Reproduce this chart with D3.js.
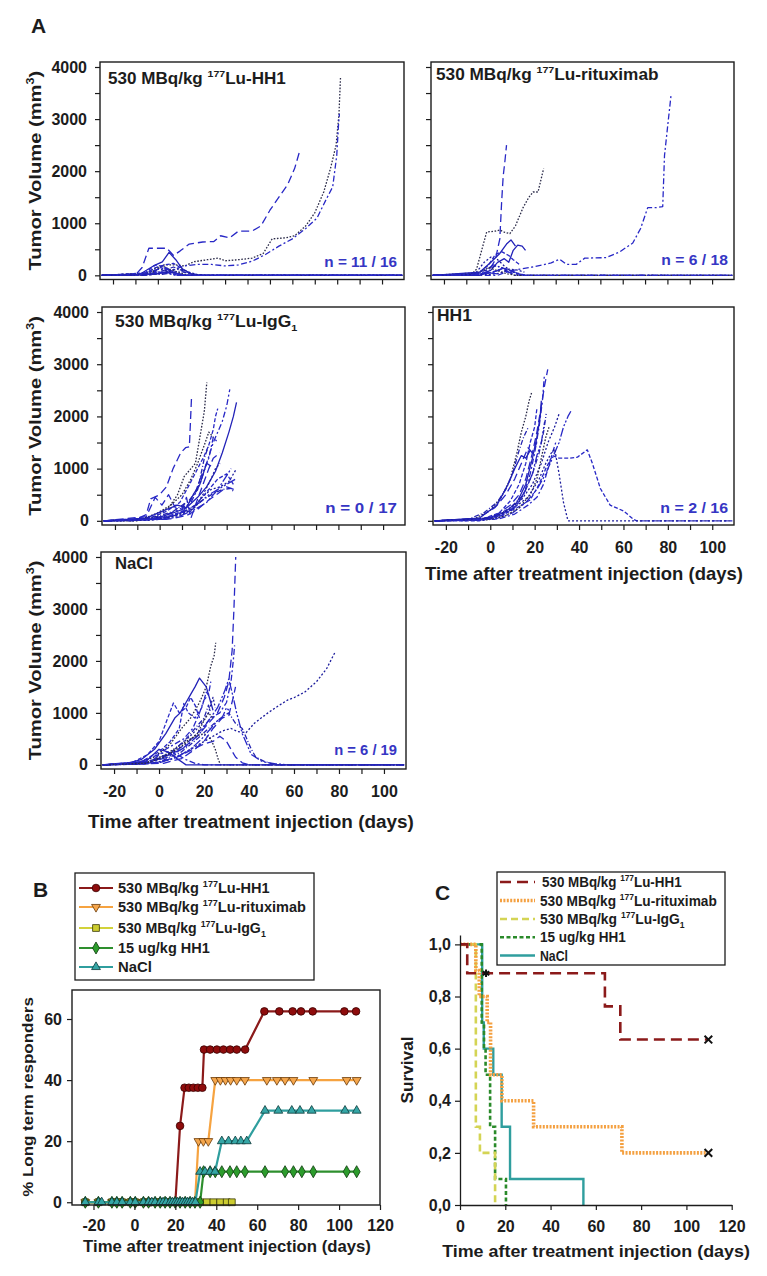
<!DOCTYPE html>
<html><head><meta charset="utf-8">
<script src="https://cdn.jsdelivr.net/npm/d3@7"></script>
<style>body{margin:0;background:#fff}svg{display:block}</style>
</head><body>
<svg id="c" width="767" height="1276"></svg>
<script>
// ================= DATA =================
// Panel A: individual tumour growth curves [day, volume mm3]
const luHH1Curves = [
 [[-25,0],[-10,10],[-7,150],[-4,520],[4,520],[7,380],[10,470],[14,600],[20,640],[25,650],[28,760],[32,720],[36,850],[42,850],[46,950],[50,1250],[54,1500],[58,1750],[61,2050],[63.5,2420]],
 [[-25,0],[-6,0],[-2,120],[3,200],[8,200],[12,180],[16,260],[22,300],[27,330],[30,280],[36,300],[42,330],[47,420],[51,700],[57,720],[61,760],[66,950],[70,1200],[74,1600],[77,2050],[79.5,2500],[80.8,3100],[81.5,3820]],
 [[-25,0],[-4,0],[1,150],[6,100],[12,180],[18,210],[24,210],[30,180],[36,200],[42,270],[48,400],[54,560],[60,700],[66,900],[71,1100],[75,1450],[78,1700],[79.8,2300],[80.6,2900],[81,3100]],
 [[-25,0],[-8,20],[-2,180],[2,260],[5,440],[8,300],[11,120],[15,30],[18,0],[109,0]],
 [[-25,0],[-6,30],[-1,150],[3,200],[7,230],[10,150],[14,40],[20,0],[109,0]],
 [[-25,0],[-4,50],[0,120],[4,90],[8,40],[12,0],[109,0]],
 [[-25,0],[-9,10],[-3,80],[1,60],[6,30],[10,0],[109,0]],
 [[-25,0],[-2,20],[3,100],[7,160],[11,90],[15,20],[19,0],[109,0]],
 [[-25,0],[-5,20],[0,70],[5,50],[9,0],[109,0]],
 [[-25,0],[-3,40],[2,180],[5,120],[9,60],[13,0],[109,0]],
 [[-25,0],[-7,20],[-2,90],[2,140],[6,80],[11,10],[16,0],[109,0]],
 [[-25,0],[0,30],[4,70],[8,40],[12,0],[109,0]],
 [[-25,0],[-6,40],[-1,200],[3,160],[7,60],[11,0],[109,0]],
 [[-25,0],[-3,10],[2,40],[6,90],[10,130],[14,60],[17,20],[21,0],[109,0]],
 [[-25,0],[-4,20],[1,50],[5,30],[8,0],[109,0]],
 [[-25,0],[2,20],[6,50],[10,80],[14,30],[16,10]]
];
const rituxCurves = [
 [[-25,0],[-5,0],[0,80],[3,300],[5,700],[5.8,1400],[6.5,1900],[7.3,2200],[8,2500]],
 [[-25,0],[-8,0],[-5.4,120],[-3,500],[-0.9,830],[3,850],[5,870],[7,830],[9.5,800],[12,950],[15.4,1300],[18,1500],[19.9,1600],[22.1,1600],[24.6,2050]],
 [[-25,0],[4,0],[9,80],[14,120],[18.4,150],[24.3,200],[28,240],[31.8,310],[34.8,210],[39.2,210],[43,330],[52.6,340],[58.6,450],[64.5,620],[68,900],[71.2,1300],[75,1300],[77.9,1320],[78.7,2300],[80.2,2900],[81.6,3450]],
 [[-25,0],[-4,0],[1,100],[4,250],[7,320],[9,250],[11,480],[13,580],[15,560],[16.5,480]],
 [[-25,0],[-5,20],[0,200],[3,400],[6,450],[9,380],[11,300],[14,200]],
 [[-25,0],[-6,30],[-2,250],[1,350],[4,300],[7,180],[10,80],[14,0],[109,0]],
 [[-25,0],[-3,40],[2,200],[6,150],[9,60],[12,0],[109,0]],
 [[-25,0],[-7,20],[-1,100],[3,180],[8,120],[13,30],[17,0],[109,0]],
 [[-25,0],[0,40],[5,100],[9,60],[14,20],[18,0],[109,0]],
 [[-25,0],[-5,50],[0,150],[4,90],[8,30],[12,0],[109,0]],
 [[-25,0],[-2,30],[3,80],[7,140],[11,70],[16,0],[109,0]],
 [[-25,0],[-4,60],[1,250],[5,420],[8,600],[10,680],[12,560]],
 [[-25,0],[-3,20],[2,60],[6,130],[10,90],[13,40]],
 [[-25,0],[1,20],[5,40],[9,120],[13,100],[16,60]],
 [[-25,0],[-6,10],[0,50],[4,30]]
];
const iggCurves = [
 [[-25,0],[-12,0],[-6,120],[-4,420],[0,500],[3,650],[6,1000],[9.4,1300],[11.6,1400],[13.3,1420],[14.3,2400]],
 [[-25,0],[-10,0],[-2,80],[4,250],[8,500],[11,850],[13,950],[16,1100],[18,1600],[20,2100],[21.1,2650]],
 [[-25,0],[-5,20],[2,100],[8,200],[14,350],[18,700],[21,1100],[24,1500],[26,1700],[28,1900],[30,2200],[31.4,2520]],
 [[-25,0],[-2,40],[6,150],[12,250],[17,450],[21,650],[25,950],[28,1300],[31,1700],[33,2000],[34.4,2270]],
 [[-25,0],[-4,60],[3,180],[9,350],[14,750],[17,1000],[20,1250],[22,1450],[24,1750],[25,2000],[26,2150]],
 [[-25,0],[0,60],[8,120],[14,200],[19,450],[23,600],[27,650],[31,750],[34.4,1000]],
 [[-25,0],[-3,30],[5,80],[12,200],[18,350],[22,500],[26,600],[30,700],[34,800]],
 [[-25,0],[2,40],[10,150],[16,300],[20,420],[24,520],[28,600],[32,620],[33,560]],
 [[-25,0],[-6,80],[-2,450],[1,300],[4,500],[7,250],[10,200],[12,450],[14,50],[16,300],[19,650],[22,1000],[24,1200],[27,1300]],
 [[-25,0],[-8,30],[-1,150],[5,300],[10,500],[14,800],[17,1100],[20,1450],[22,1700],[24,1600]],
 [[-25,0],[0,30],[6,100],[11,200],[16,550],[19,900],[22,1200],[24,1600],[26,1500]],
 [[-25,0],[-6,50],[2,200],[8,300],[12,250],[15,500],[18,700],[21,1100],[23,1050]],
 [[-25,0],[1,50],[8,150],[14,180],[18,400],[22,600],[26,800],[30,900],[33,700]],
 [[-25,0],[-4,10],[4,60],[10,120],[16,260],[20,550],[23,800],[25,1000],[27,1100]],
 [[-25,0],[3,30],[9,90],[15,200],[21,350],[26,600],[29,800],[32,1000]],
 [[-25,0],[-10,10],[-2,70],[6,180],[13,380],[17,600],[20,1200],[22,1450]],
 [[-25,0],[5,40],[12,100],[17,220],[22,400],[26,520],[30,650],[34,590]]
];
const hh1Curves = [
 [[-25,0],[-5,20],[3,120],[9,300],[13,500],[16,800],[19,1300],[21,1700],[23,2200],[24.5,2600],[25.9,2900]],
 [[-25,0],[-8,20],[0,200],[5,450],[9,800],[12,1300],[14,1700],[16,2000],[17.5,2300],[18.6,2450]],
 [[-25,0],[-3,10],[5,100],[11,250],[15,500],[18,900],[20,1300],[22,1800],[23.5,2300],[24.4,2800]],
 [[-25,0],[-2,40],[6,150],[12,350],[16,700],[19,1200],[21,1600],[22.5,2000],[23,2300]],
 [[-25,0],[-4,30],[4,150],[9,380],[13,700],[16,1100],[18,1500],[20,1800],[21,2150]],
 [[-25,0],[0,50],[8,200],[14,400],[19,700],[23,1100],[26,1500],[29,1800],[31,2050]],
 [[-25,0],[2,30],[10,150],[16,350],[21,600],[25,900],[28,1200],[31,1500],[33,1800],[35,2000],[36.3,2100]],
 [[-25,0],[-10,30],[-3,150],[3,350],[7,600],[10,900],[13,1350],[15,1600],[17,1780]],
 [[-25,0],[-6,40],[2,250],[7,500],[11,800],[14,1100],[17,1400],[19,1300],[21,1500]],
 [[-25,0],[-1,20],[7,100],[13,250],[18,500],[21,800],[23,1200],[25,1600],[26.5,1800]],
 [[-25,0],[4,40],[11,130],[17,300],[21,450],[24,700],[26,1000],[28,1300],[29.5,1500]],
 [[-25,0],[-5,50],[3,300],[8,700],[11,1000],[14,1250],[16,1200],[18,1350]],
 [[-25,0],[-5,0],[5,100],[12,250],[18,400],[22,700],[25,1000],[28,1250],[31,1200],[36,1200],[39.3,1220],[43.7,1360],[46,1100],[49.6,620],[54,300],[60,190],[64.5,30],[66,0],[109,0]],
 [[-25,0],[0,50],[9,200],[17,450],[22,800],[25,1100],[27.5,1300],[29,1380],[31,900],[33,350],[35,0],[109,0]],
 [[-25,0],[-3,20],[6,120],[12,300],[16,600],[19,900],[21,1250],[23,1500],[24.5,1900]],
 [[-25,0],[1,60],[9,250],[15,500],[19,900],[22,1300],[24,1700],[25.2,2050]]
];
const naclCurves = [
 [[-25,0],[-8,30],[2,150],[10,300],[17,550],[22,800],[26,1000],[29,1300],[31,1600],[32.5,2200],[33.3,3000],[34.1,4000]],
 [[-25,0],[-10,20],[-2,150],[5,400],[10,700],[14,900],[18,1200],[21,1500],[23,1900],[24.5,2100],[25.2,2350]],
 [[-25,0],[-5,30],[5,200],[12,400],[18,650],[23,900],[27,1000],[30,1200],[32,1600],[33,2000],[33.6,2300]],
 [[-25,0],[-15,20],[-8,100],[-2,300],[3,600],[7,900],[9.4,1000],[12,1200],[14,1350],[16,1500],[18,1670],[21,1500],[23,1200],[24,1050]],
 [[-25,0],[-12,40],[-5,200],[0,450],[3,800],[6.4,1190],[9,1000],[12,1100],[14,1300],[16,1150],[18,900]],
 [[-25,0],[-5,20],[5,100],[12,250],[18,400],[24,550],[28,650],[32,700],[35,640],[38.7,620],[42.4,800],[48.4,1000],[53.6,1150],[57.3,1250],[60.3,1300],[64.8,1400],[70,1600],[74.5,1850],[78.4,2180]],
 [[-25,0],[-6,20],[4,150],[12,350],[18,600],[22,850],[26,1100],[29,1400],[31,1650],[33,1300],[34.5,1000],[37,600],[41,200],[46,60],[52,20],[57,0],[109,0]],
 [[-25,0],[0,50],[10,250],[17,500],[22,700],[26,850],[29,950],[31,1000],[34,800],[37,700],[39,500],[41,300],[43,150],[47,60],[52,0],[109,0]],
 [[-25,0],[-2,30],[8,150],[15,300],[20,400],[24,450],[27,550],[30,450],[32,300],[34,150],[37,40],[40,0],[109,0]],
 [[-25,0],[-6,40],[3,200],[10,400],[16,550],[20,600],[23,500],[25,300],[26.5,80],[27.5,0],[109,0]],
 [[-25,0],[-10,30],[-3,150],[3,250],[8,200],[12,100],[16,30],[20,0],[109,0]],
 [[-25,0],[-6,60],[0,300],[4,250],[8,120],[12,0],[109,0]],
 [[-25,0],[-8,60],[0,250],[5,450],[9,700],[11,1180],[13,1000],[16,900],[19,1100],[21,1400],[22,1350]],
 [[-25,0],[-4,50],[4,200],[10,400],[15,600],[19,800],[22,1000],[24,1300],[25,1100]],
 [[-25,0],[0,40],[8,150],[14,300],[19,500],[23,700],[26,850],[28,900],[30,1100],[31,1050]],
 [[-25,0],[-10,10],[-2,100],[6,250],[12,500],[17,750],[20,900],[22,1150],[23,1000]],
 [[-25,0],[2,30],[10,120],[16,300],[20,450],[24,700],[28,900],[31,950],[33,1300],[34,1500]],
 [[-25,0],[-6,30],[2,150],[8,300],[13,450],[17,600],[20,850],[22,1000],[24,900]],
 [[-25,0],[-3,80],[3,300],[7,400],[11,500],[15,700],[18,1000],[20,1250],[22,1350],[23,1600]]
];
const panelATitles = [
 [['530 MBq/kg '],['177','sup'],['Lu-HH1']],
 [['530 MBq/kg '],['177','sup'],['Lu-rituximab']],
 [['530 MBq/kg '],['177','sup'],['Lu-IgG'],['1','sub']],
 [['HH1']],
 [['NaCl']]
];
const panelACounts = ['n = 11 / 16','n = 6 / 18','n = 0 / 17','n = 2 / 16','n = 6 / 19'];
const volTicks = [0,500,1000,1500,2000,2500,3000,3500,4000];
const dayTicksA = [-20,-10,0,10,20,30,40,50,60,70,80,90,100];

// Panel B: % long term responders [day, %]
const respLuHH1 = [[-24,0],[-17.6,0],[-11,0],[-6,0],[-2,0],[0.4,0],[4.4,0],[8,0],[12.6,0],[17.4,0],[20,0],[22.3,25],[24.5,37.5],[26.6,37.5],[28.8,37.5],[31,37.5],[33.2,37.5],[34,50],[37,50],[40.3,50],[43.5,50],[46.8,50],[50,50],[54.1,50],[63.5,62.5],[70.8,62.5],[77.3,62.5],[81.4,62.5],[87.1,62.5],[102.6,62.5],[108.3,62.5]];
const respRitux = [[-24,0],[-17.6,0],[-11,0],[-8.6,0],[-6,0],[-2,0],[0.4,0],[4.4,0],[6.9,0],[10.1,0],[12.6,0],[15,0],[17.4,0],[19.9,0],[22.3,0],[24.8,0],[27.2,0],[29.6,0],[31.3,20],[33.7,20],[36.1,20],[39.5,40],[42,40],[44.5,40],[47,40],[50,40],[54,40],[64.7,40],[69.6,40],[73.6,40],[77.7,40],[87.4,40],[103.7,40],[108.6,40]];
const respIgG = [[-24,0],[-17.6,0],[-11,0],[-8.6,0],[-6,0],[-2,0],[0.4,0],[4.4,0],[6.9,0],[10.1,0],[12.6,0],[15,0],[17.4,0],[19.9,0],[22.3,0],[24.8,0],[27.2,0],[29.6,0],[32.1,0],[35.4,0],[38.6,0],[41.9,0],[45.1,0],[47.6,0]];
const respHH1 = [[-24,0],[-17.6,0],[-11,0],[-8.6,0],[-6,0],[-2,0],[0.4,0],[4.4,0],[6.9,0],[10.1,0],[12.6,0],[15,0],[17.4,0],[19.9,0],[22.3,0],[24.8,0],[27.2,0],[29.6,0],[32.1,0],[33.8,10],[37,10],[39.5,10],[42.7,10],[46.7,10],[50,10],[54,10],[63.8,10],[73.6,10],[77.7,10],[81.8,10],[87.4,10],[103.7,10],[108.6,10]];
const respNaCl = [[-24,0],[-17.6,0],[-16,0],[-11,0],[-8.6,0],[-6,0],[-2,0],[0.4,0],[4.4,0],[6.9,0],[8.5,0],[10.1,0],[12.6,0],[14,0],[15.5,0],[17.4,0],[18.6,0],[19.9,0],[21.1,0],[22.3,0],[23.5,0],[24.8,0],[26,0],[27.2,0],[28.4,0],[29.8,0],[32.1,10],[34.5,10],[37,10],[39.4,10],[42.7,20],[46,20],[49.3,20],[52,20],[54.9,20],[63.8,30],[70.3,30],[76.9,30],[80.9,30],[86.6,30],[102.9,30],[108.6,30]];
const groupNames = [
 [['530 MBq/kg '],['177','sup'],['Lu-HH1']],
 [['530 MBq/kg '],['177','sup'],['Lu-rituximab']],
 [['530 MBq/kg '],['177','sup'],['Lu-IgG'],['1','sub']],
 [['15 ug/kg HH1']],
 [['NaCl']]
];
const pctTicks = [0,20,40,60];
const dayTicksB = [-20,0,20,40,60,80,100,120];

// Panel C: Kaplan-Meier survival [day, survival]
const survLuHH1 = [[0,1],[3.2,0.889],[64,0.762],[70.8,0.635],[109.7,0.635]];
const survRitux = [[0,1],[7,0.9],[8.5,0.8],[12,0.7],[13.5,0.5],[18.5,0.4],[32.5,0.3],[71.5,0.2],[109.7,0.2]];
const survIgG = [[0,1],[7,0.3],[8.8,0.2],[15.5,0]];
const survHH1 = [[0,1],[9.6,0.7],[10.6,0.6],[11.3,0.5],[13.3,0.3],[15.5,0.1],[20.3,0]];
const survNaCl = [[0,1],[9.8,0.7],[10.5,0.6],[14.7,0.5],[18.4,0.3],[22.1,0.1],[54.5,0]];
const censorDays = [11.5,109.7,109.7];
const censorSurv = [0.889,0.635,0.2];
const survTicks = [0,0.2,0.4,0.6,0.8,1.0];
const dayTicksC = [0,20,40,60,80,100,120];

// ================= DRAWING =================
const FONT = '"Liberation Sans", Arial, Helvetica, sans-serif';
const INK = '#1c1c1c';
const svg = d3.select('#c');

function addText(g, x, y, parts, o) {
  o = o || {};
  const size = o.size || 14;
  const t = g.append('text').attr('font-family', FONT).attr('font-size', size)
    .attr('font-weight', o.bold === false ? 'normal' : 'bold')
    .attr('fill', o.color || INK).attr('text-anchor', o.anchor || 'start');
  if (typeof parts === 'string') parts = [[parts]];
  let shift = 0;
  parts.forEach(p => {
    const s = t.append('tspan').text(p[0]);
    let target = 0;
    if (p[1] === 'sup') { s.attr('font-size', size * 0.62); target = -size * 0.42; }
    else if (p[1] === 'sub') { s.attr('font-size', size * 0.62); target = size * 0.25; }
    if (target !== shift) { s.attr('dy', target - shift); shift = target; }
  });
  let sx = 1;
  if (o.width) { const w = t.node().getBBox().width; if (w > 0) sx = o.width / w; }
  t.attr('transform', `translate(${x},${y})` + (o.rotate ? ` rotate(${o.rotate})` : '') + ` scale(${sx},1)`);
  return t;
}
function styleAxis(ga, size) {
  ga.attr('font-family', FONT).attr('font-size', size || 16).attr('font-weight', 'bold');
  ga.selectAll('line').attr('stroke', INK).attr('stroke-width', 1.2);
  ga.selectAll('path.domain').attr('stroke', INK).attr('stroke-width', 1.3);
  ga.selectAll('text').attr('fill', INK);
}

addText(svg, 31, 33, 'A', {size: 21});

const aStyles = [
  {c: '#2828c6', d: '8,4', w: 1.3},
  {c: '#2a2a48', d: '1.6,1.6', w: 1.3},
  {c: '#2828c6', d: '6,2.5,2,2.5', w: 1.3},
  {c: '#2222b8', d: null, w: 1.3},
  {c: '#2828c6', d: '4,2', w: 1.3},
  {c: '#1c1c9c', d: '2,2', w: 1.3},
  {c: '#2828c6', d: '9,2,2,2,2,2', w: 1.3},
  {c: '#2323b0', d: '5,2,1,2', w: 1.3}
];
const xDomA = [-25.8, 109.8], yDomA = [-80, 4096];
const panels = [
  {curves: luHH1Curves, x0: 100, y0: 62, w: 304, h: 217.5, yLab: true, xLab: false, tx: 108, ty: 84, tw: 178, nx: 397, ny: 267, nw: 73},
  {curves: rituxCurves, x0: 431, y0: 62, w: 303, h: 217.5, yLab: false, xLab: false, tx: 436, ty: 80, tw: 223, nx: 728, ny: 265, nw: 67},
  {curves: iggCurves, x0: 102, y0: 307, w: 303, h: 218, yLab: true, xLab: false, tx: 115, ty: 327, tw: 183, nx: 397, ny: 513, nw: 72},
  {curves: hh1Curves, x0: 433, y0: 307, w: 301, h: 218, yLab: false, xLab: true, tx: 437, ty: 321, tw: 35, nx: 728, ny: 513, nw: 68},
  {curves: naclCurves, x0: 101, y0: 552, w: 305, h: 217, yLab: true, xLab: true, tx: 115, ty: 569, tw: 38, nx: 397, ny: 755, nw: 63}
];
panels.forEach((p, pi) => {
  const g = svg.append('g');
  const x = d3.scaleLinear().domain(xDomA).range([p.x0, p.x0 + p.w]);
  const y = d3.scaleLinear().domain(yDomA).range([p.y0 + p.h, p.y0]);
  const cid = 'clipA' + pi;
  svg.append('clipPath').attr('id', cid).append('rect').attr('x', p.x0).attr('y', p.y0).attr('width', p.w).attr('height', p.h);
  const line = d3.line().x(d => x(d[0])).y(d => y(d[1]));
  const cg = g.append('g').attr('clip-path', `url(#${cid})`);
  p.curves.forEach((c, i) => {
    const st = aStyles[i % aStyles.length];
    cg.append('path').attr('d', line(c)).attr('fill', 'none').attr('stroke', st.c)
      .attr('stroke-width', st.w).attr('stroke-dasharray', st.d).attr('stroke-linejoin', 'round');
  });
  g.append('rect').attr('x', p.x0).attr('y', p.y0).attr('width', p.w).attr('height', p.h)
    .attr('fill', 'none').attr('stroke', INK).attr('stroke-width', 1.4);
  const gx = g.append('g').attr('transform', `translate(0,${p.y0 + p.h})`)
    .call(d3.axisBottom(x).tickValues(dayTicksA).tickSize(5).tickSizeOuter(0).tickPadding(12)
      .tickFormat(d => (p.xLab && d % 20 === 0) ? String(d) : ''));
  gx.select('.domain').remove();
  styleAxis(gx, 16);
  const gy = g.append('g').attr('transform', `translate(${p.x0},0)`)
    .call(d3.axisLeft(y).tickValues(volTicks).tickSize(5).tickSizeOuter(0).tickPadding(8)
      .tickFormat(d => (p.yLab && d % 1000 === 0) ? String(d) : ''));
  gy.select('.domain').remove();
  styleAxis(gy, 16);
  addText(g, p.tx, p.ty, panelATitles[pi], {size: 16, width: p.tw});
  addText(g, p.nx, p.ny, panelACounts[pi], {size: 14, width: p.nw, anchor: 'end', color: '#3636c4'});
  if (p.yLab) {
    addText(g, 41, p.y0 + p.h / 2, [['Tumor Volume (mm'], ['3', 'sup'], [')']], {size: 17, rotate: -90, anchor: 'middle', width: 200});
  }
});
addText(svg, 584, 580, 'Time after treatment injection (days)', {size: 18, anchor: 'middle', width: 318});
addText(svg, 251, 828, 'Time after treatment injection (days)', {size: 18, anchor: 'middle', width: 326});

// ---------- Panel B ----------
addText(svg, 33, 897, 'B', {size: 21});
const xB = d3.scaleLinear().domain([-30.5, 120]).range([72, 380]);
const yB = d3.scaleLinear().domain([-0.9, 69.5]).range([1205, 990]);
const bSeries = [
  {data: respLuHH1, line: '#8b1a1a', fill: '#8e0c0c', stroke: '#3a0000', sym: d3.symbolCircle, size: 46, rot: 0},
  {data: respRitux, line: '#f6a340', fill: '#f5a64c', stroke: '#6a3a08', sym: d3.symbolTriangle, size: 34, rot: 180},
  {data: respIgG, line: '#d2d23a', fill: '#cccc30', stroke: '#3a3a08', sym: d3.symbolSquare, size: 46, rot: 0},
  {data: respHH1, line: '#2e8f2e', fill: '#2c9c2c', stroke: '#0c3a0c', sym: d3.symbolDiamond, size: 42, rot: 0},
  {data: respNaCl, line: '#2f9e9e', fill: '#35a6a6', stroke: '#0c3a3a', sym: d3.symbolTriangle, size: 34, rot: 0}
];
const gB = svg.append('g');
const lineB = d3.line().x(d => xB(d[0])).y(d => yB(d[1]));
bSeries.forEach(s => {
  gB.append('path').attr('d', lineB(s.data)).attr('fill', 'none').attr('stroke', s.line).attr('stroke-width', 2.2);
  gB.selectAll(null).data(s.data).enter().append('path')
    .attr('d', d3.symbol(s.sym, s.size))
    .attr('transform', d => `translate(${xB(d[0])},${yB(d[1])}) rotate(${s.rot})`)
    .attr('fill', s.fill).attr('stroke', s.stroke).attr('stroke-width', 0.8);
});
gB.append('rect').attr('x', 72).attr('y', 990).attr('width', 308).attr('height', 215)
  .attr('fill', 'none').attr('stroke', INK).attr('stroke-width', 1.4);
const gBx = gB.append('g').attr('transform', 'translate(0,1205)')
  .call(d3.axisBottom(xB).tickValues(dayTicksB).tickSize(5).tickSizeOuter(0).tickPadding(10).tickFormat(d => String(d)));
gBx.select('.domain').remove(); styleAxis(gBx, 16);
const gBy = gB.append('g').attr('transform', 'translate(72,0)')
  .call(d3.axisLeft(yB).tickValues(pctTicks).tickSize(5).tickSizeOuter(0).tickPadding(5).tickFormat(d => String(d)));
gBy.select('.domain').remove(); styleAxis(gBy, 16);
addText(svg, 33, 1097, '% Long term responders', {size: 15, rotate: -90, anchor: 'middle', width: 200});
addText(svg, 227, 1252, 'Time after treatment injection (days)', {size: 17, anchor: 'middle', width: 288});
// legend B
const legB = svg.append('g');
legB.append('rect').attr('x', 75).attr('y', 873).attr('width', 239).attr('height', 107)
  .attr('fill', '#fff').attr('stroke', INK).attr('stroke-width', 1.3);
const legBY = [888, 907, 928, 948, 967];
const legBW = [152, 188, 148, 92, 34];
bSeries.forEach((s, i) => {
  const yy = legBY[i];
  legB.append('line').attr('x1', 79).attr('x2', 113).attr('y1', yy).attr('y2', yy).attr('stroke', s.line).attr('stroke-width', 2.2);
  legB.append('path').attr('d', d3.symbol(s.sym, s.size)).attr('transform', `translate(96,${yy}) rotate(${s.rot})`)
    .attr('fill', s.fill).attr('stroke', s.stroke).attr('stroke-width', 0.8);
  addText(legB, 118, yy + 5, groupNames[i], {size: 14, width: legBW[i]});
});

// ---------- Panel C ----------
addText(svg, 435, 900, 'C', {size: 21});
const xC = d3.scaleLinear().domain([0, 120]).range([460, 731.7]);
const yC = d3.scaleLinear().domain([0, 1.036]).range([1205, 935]);
const cSeries = [
  {data: survNaCl, c: '#2f9e9e', d: null, w: 2.4},
  {data: survHH1, c: '#2a8a2a', d: '4,2.5', w: 2.6},
  {data: survIgG, c: '#d4d454', d: '7,4', w: 2.6},
  {data: survRitux, c: '#f4a040', d: '2,1.4', w: 3.6},
  {data: survLuHH1, c: '#8b1a1a', d: '11,6', w: 2.6}
];
const gC = svg.append('g');
const lineC = d3.line().x(d => xC(d[0])).y(d => yC(d[1])).curve(d3.curveStepAfter);
cSeries.forEach(s => {
  gC.append('path').attr('d', lineC(s.data)).attr('fill', 'none').attr('stroke', s.c)
    .attr('stroke-width', s.w).attr('stroke-dasharray', s.d);
});
const symTimes = d3.symbolTimes || d3.symbolCross;
const symAst = d3.symbolAsterisk || d3.symbolCross;
censorDays.forEach((dd, i) => {
  gC.append('path').attr('d', d3.symbol(i === 0 ? symAst : symTimes, 40))
    .attr('transform', `translate(${xC(dd)},${yC(censorSurv[i])})`)
    .attr('fill', 'none').attr('stroke', '#111').attr('stroke-width', 2);
});
const gCx = gC.append('g').attr('transform', 'translate(0,1205)')
  .call(d3.axisBottom(xC).tickValues(dayTicksC).tickSize(5).tickSizeOuter(0).tickPadding(11).tickFormat(d => String(d)));
styleAxis(gCx, 16);
const gCy = gC.append('g').attr('transform', 'translate(460,0)')
  .call(d3.axisLeft(yC).tickValues(survTicks).tickSize(5).tickSizeOuter(0).tickPadding(4)
    .tickFormat(d => d3.format('.1f')(d).replace('.', ',')));
styleAxis(gCy, 16);
addText(svg, 413, 1070, 'Survival', {size: 16, rotate: -90, anchor: 'middle', width: 67});
addText(svg, 596, 1257, 'Time after treatment injection (days)', {size: 17, anchor: 'middle', width: 308});
// legend C
const legC = svg.append('g');
legC.append('rect').attr('x', 497).attr('y', 872).attr('width', 228).attr('height', 93)
  .attr('fill', '#fff').attr('stroke', INK).attr('stroke-width', 1.3);
const legCY = [882, 900.5, 919, 937.3, 955.5];
const legCW = [140, 177, 145, 86, 28];
const legCOrder = [4, 3, 2, 1, 0];
legCOrder.forEach((si, i) => {
  const s = cSeries[si], yy = legCY[i];
  legC.append('line').attr('x1', 500).attr('x2', 535).attr('y1', yy).attr('y2', yy)
    .attr('stroke', s.c).attr('stroke-width', s.w).attr('stroke-dasharray', s.d);
  addText(legC, i === 0 ? 542 : 540, yy + 5, groupNames[i], {size: 14, width: legCW[i]});
});
</script>
</body></html>
